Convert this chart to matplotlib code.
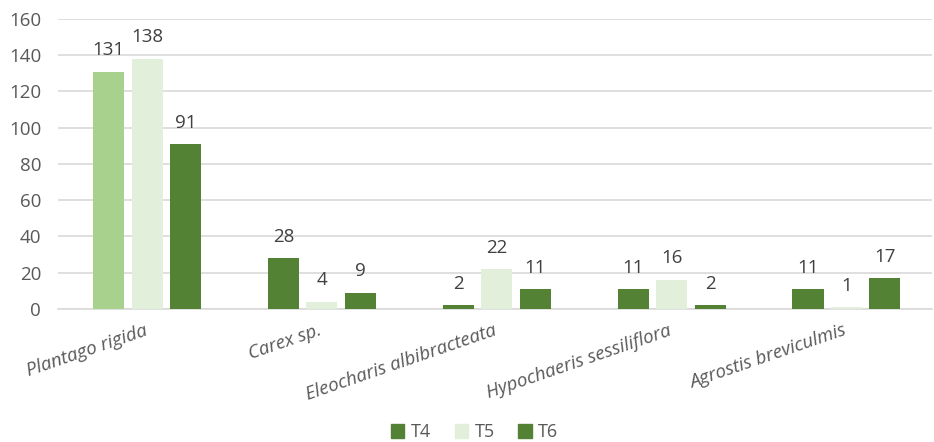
import matplotlib.pyplot as plt
import numpy as np

plt.rcParams['font.family'] = ['Open Sans', 'DejaVu Sans']

species = ['Plantago rigida', 'Carex sp.', 'Eleocharis albibracteata',
           'Hypochaeris sessiliflora', 'Agrostis breviculmis']
t4 = [131, 28, 2, 11, 11]
t5 = [138, 4, 22, 16, 1]
t6 = [91, 9, 11, 2, 17]

dark = '#548235'
light = '#e2efda'
mid = '#a9d18e'
txt = '#595959'

fig = plt.figure(figsize=(9.34, 4.42), dpi=100)
ax = fig.add_axes([0.062, 0.301, 0.936, 0.656])

x = np.arange(len(species))
w = 0.178
off = 0.22

t4_colors = [mid] + [dark] * (len(species) - 1)
b4 = ax.bar(x - off + 0.01, t4, w, color=t4_colors, label='T4', zorder=3)
b5 = ax.bar(x + 0.01, t5, w, color=light, label='T5', zorder=3)
b6 = ax.bar(x + off + 0.01, t6, w, color=dark, label='T6', zorder=3)

for bars in (b4, b5, b6):
    ax.bar_label(bars, padding=9, fontsize=13.5, color='#404040')

ax.set_xlim(-0.5, len(species) - 0.5)
ax.set_ylim(0, 160)
ax.set_yticks(range(0, 161, 20))
ax.yaxis.grid(True, color='#d9d9d9', linewidth=1.2, zorder=0)
ax.set_axisbelow(True)
for s in ('top', 'right', 'left'):
    ax.spines[s].set_visible(False)
ax.spines['bottom'].set_color('#d9d9d9')
ax.spines['bottom'].set_linewidth(1.2)
ax.tick_params(axis='both', length=0, labelsize=13.5, colors=txt)
ax.tick_params(axis='y', pad=12)
ax.tick_params(axis='x', pad=9)

ax.set_xticks(x - 0.01)
ax.set_xticklabels(species, rotation=19, ha='right', rotation_mode='anchor',
                   style='italic', fontsize=13.5, color=txt)

handles = [plt.Rectangle((0, 0), 1, 1, color=c) for c in (dark, light, dark)]
fig.legend(handles, ['T4', 'T5', 'T6'], loc='center', bbox_to_anchor=(0.508, 0.022),
           ncol=3, frameon=False, fontsize=13, handlelength=0.75, handleheight=0.75,
           columnspacing=1.3, handletextpad=0.35, labelcolor=txt)

fig.savefig('out.png', dpi=100)
